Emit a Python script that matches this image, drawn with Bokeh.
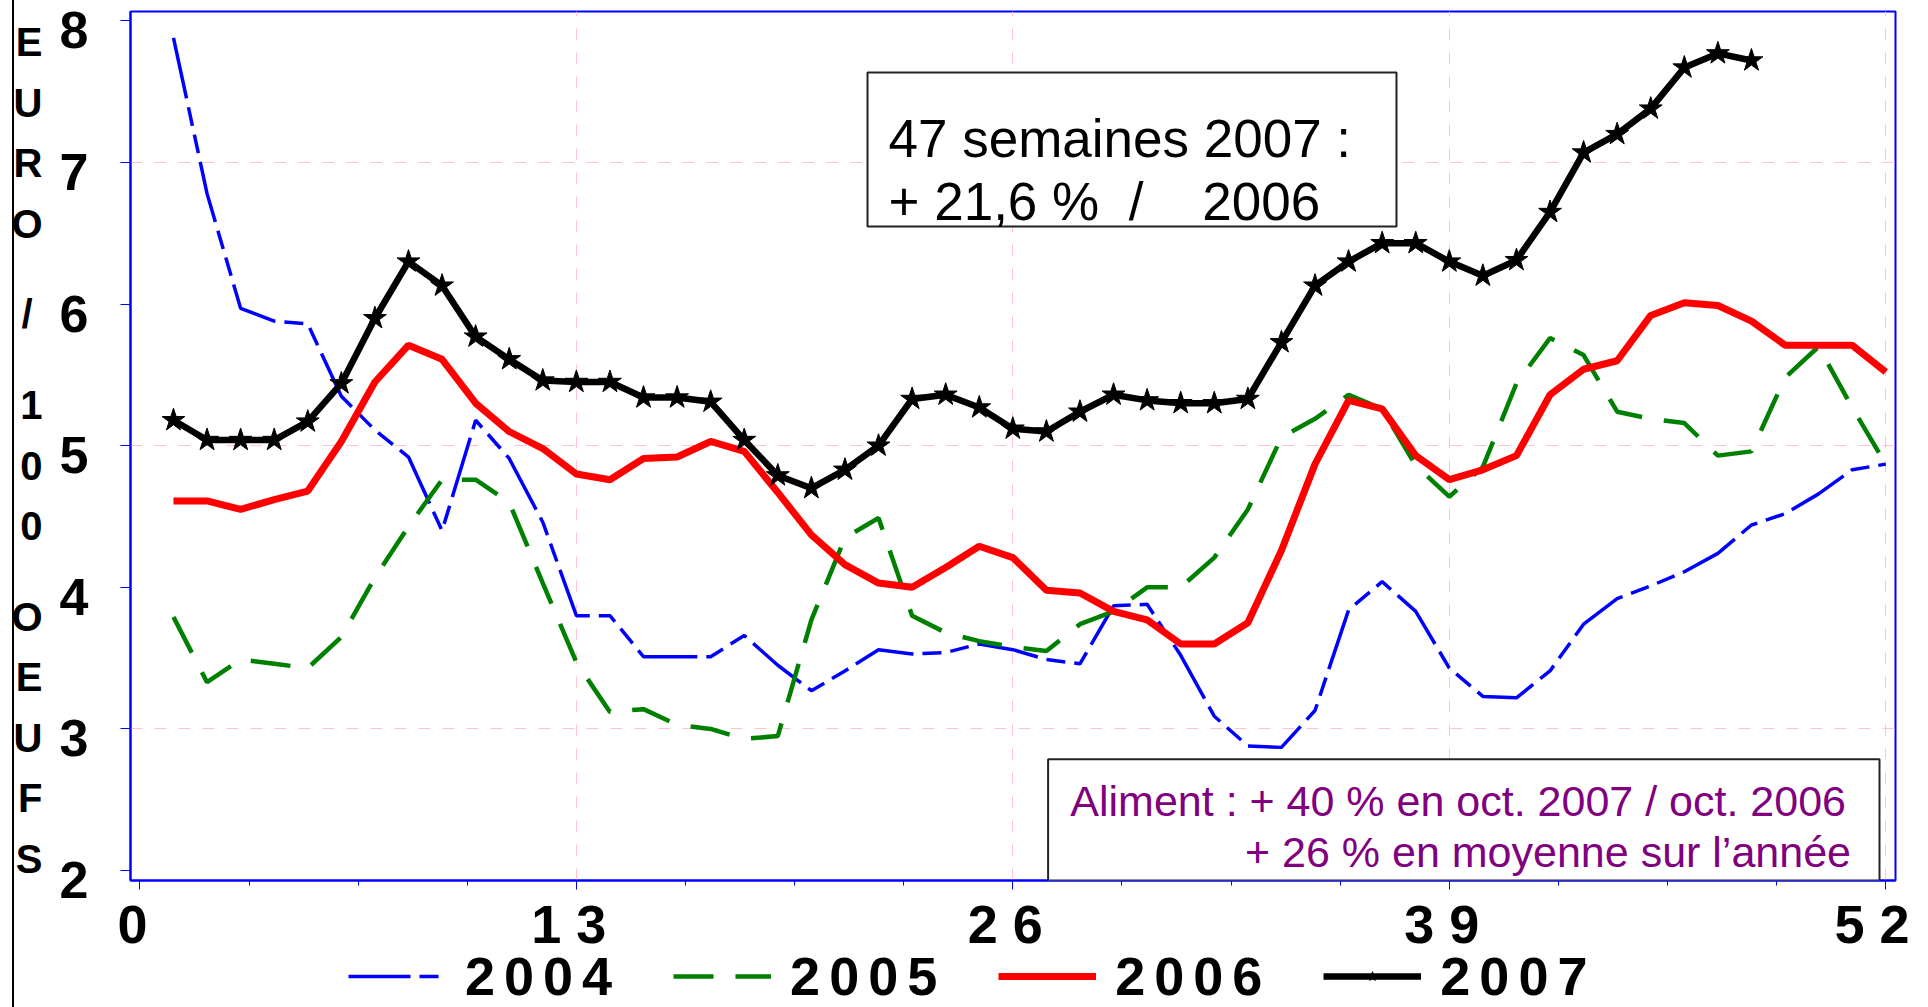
from bokeh.plotting import figure
from bokeh.layouts import row, column
from bokeh.models import (Range1d, FixedTicker, Label, BoxAnnotation, Legend, LegendItem,
                          LinearAxis, CustomJSTickFormatter, Div)
from bokeh.embed import file_html
from bokeh.resources import INLINE

# ---------------- data ----------------
weeks = list(range(1, 53))

v2004 = [7.88, 6.78, 5.97, 5.88, 5.86, 5.35, 5.11, 4.92, 4.40, 5.18,
         4.91, 4.46, 3.80, 3.80, 3.51, 3.51, 3.51, 3.66, 3.45, 3.27,
         3.41, 3.56, 3.53, 3.54, 3.60, 3.56, 3.49, 3.46, 3.87, 3.88,
         3.52, 3.09, 2.88, 2.87, 3.13, 3.84, 4.04, 3.83, 3.43, 3.23,
         3.22, 3.41, 3.74, 3.92, 4.01, 4.11, 4.24, 4.44, 4.52, 4.66,
         4.83, 4.87]

v2005 = [3.79, 3.33, 3.49, 3.46, 3.43, 3.65, 4.07, 4.43, 4.76, 4.76,
         4.60, 4.03, 3.47, 3.12, 3.14, 3.03, 3.00, 2.93, 2.95, 3.77,
         4.35, 4.49, 3.80, 3.68, 3.62, 3.58, 3.55, 3.74, 3.83, 4.00,
         4.00, 4.21, 4.55, 5.06, 5.19, 5.36, 5.26, 4.86, 4.64, 4.85,
         5.44, 5.76, 5.64, 5.24, 5.19, 5.16, 4.93, 4.96, 5.48, 5.70,
         5.27, 4.87]

v2006 = [4.61, 4.61, 4.55, 4.62, 4.68, 5.03, 5.45, 5.71, 5.61, 5.30,
         5.10, 4.98, 4.80, 4.76, 4.91, 4.92, 5.03, 4.96, 4.67, 4.37,
         4.16, 4.03, 4.00, 4.14, 4.29, 4.21, 3.98, 3.96, 3.83, 3.77,
         3.60, 3.60, 3.75, 4.26, 4.87, 5.32, 5.26, 4.93, 4.76, 4.83,
         4.93, 5.36, 5.54, 5.60, 5.92, 6.01, 5.99, 5.88, 5.71, 5.71,
         5.71, 5.52]

v2007 = [5.18, 5.04, 5.04, 5.04, 5.17, 5.44, 5.90, 6.30, 6.13, 5.77,
         5.61, 5.46, 5.45, 5.45, 5.34, 5.34, 5.31, 5.04, 4.79, 4.70,
         4.83, 5.00, 5.33, 5.36, 5.27, 5.12, 5.10, 5.24, 5.36, 5.32,
         5.30, 5.30, 5.33, 5.73, 6.13, 6.30, 6.43, 6.43, 6.30, 6.20,
         6.31, 6.65, 7.07, 7.20, 7.38, 7.67, 7.77, 7.72]
weeks2007 = weeks[:len(v2007)]

x_ticks = [0, 13, 26, 39, 52]
x_tick_labels = ["0\u00a0", "1 3\u00a0", "2 6\u00a0", "3 9\u00a0", "5 2\u00a0"]
y_ticks = [2, 3, 4, 5, 6, 7, 8]
series_labels = ["2004", "2005", "2006", "2007"]
y_title_letters = ["E", "U", "R", "O", "/\u2005", "1", "0", "0", "O", "E", "U", "F", "S"]
y_title_rows = [0, 1, 2, 3, 4.5, 6, 7, 8, 9.5, 10.5, 11.5, 12.5, 13.5]
box1_lines = ["47 semaines 2007 :", "+ 21,6 %\u00a0\u00a0/\u00a0\u00a0\u00a0 2006"]
box2_lines = ["Aliment : + 40 % en oct. 2007 / oct. 2006",
              "+ 26 % en moyenne sur l\u2019ann\u00e9e"]

FONT = "Liberation Sans"
BLUE = "#0000FF"
GREEN = "#008000"
RED = "#FF0000"
DASH04 = "62 9 19 9 19 9"
DASH05 = "40 22"

# ---------------- layout constants (page px) ----------------
FIG_W = 1924
MAIN_H = 960
LEG_OVERLAP = 20
LEG_H = 1007 - MAIN_H + LEG_OVERLAP
FRAME_LEFT, FRAME_TOP, FRAME_H = 130, 11, 869
Y0, Y1 = 1.93, 8.066
PX_PER_UNIT = FRAME_H / (Y1 - Y0)
LABEL_SHIFT = 9.5 / PX_PER_UNIT          # tick labels sit slightly below their tick

p = figure(width=FIG_W, height=MAIN_H, output_backend="svg", toolbar_location=None,
           title=None, x_range=Range1d(-0.28, 52.29), y_range=Range1d(Y0, Y1),
           min_border_left=FRAME_LEFT, min_border_right=29, min_border_top=FRAME_TOP,
           min_border_bottom=MAIN_H - FRAME_TOP - FRAME_H,
           background_fill_color="white", border_fill_color=None)

p.outline_line_color = BLUE
p.outline_line_width = 2

# x axis
xa = p.xaxis[0]
xa.ticker = FixedTicker(ticks=x_ticks, minor_ticks=[i * 3.25 for i in range(17)])
xa.major_label_overrides = {t: l for t, l in zip(x_ticks, x_tick_labels)}
xa.axis_line_color = BLUE
xa.axis_line_width = 2
xa.major_tick_line_color = BLUE
xa.minor_tick_line_color = BLUE
xa.major_tick_in = 0
xa.minor_tick_in = 0
xa.major_tick_out = 9
xa.minor_tick_out = 5
xa.major_label_text_font = FONT
xa.major_label_text_font_style = "bold"
xa.major_label_text_font_size = "54px"
xa.major_label_text_color = "black"
xa.major_label_standoff = 4

# y axis: tick marks only (labels not drawn)
ya = p.yaxis[0]
ya.ticker = FixedTicker(ticks=y_ticks, minor_ticks=[])
ya.axis_line_color = BLUE
ya.axis_line_width = 2
ya.major_tick_line_color = BLUE
ya.major_tick_in = 0
ya.major_tick_out = 10
ya.minor_tick_line_color = None
ya.major_label_text_font = FONT
ya.major_label_text_font_style = "bold"
ya.major_label_text_font_size = "52px"
ya.major_label_text_color = None
ya.major_label_standoff = 0

# y axis labels (slightly below their ticks, as in the original)
yl = LinearAxis(ticker=FixedTicker(ticks=[t - LABEL_SHIFT for t in y_ticks], minor_ticks=[]),
                formatter=CustomJSTickFormatter(code="return Math.round(tick + %f).toString();" % LABEL_SHIFT),
                axis_line_color=None, major_tick_line_color=None, minor_tick_line_color=None,
                major_tick_in=0, major_tick_out=0, major_label_standoff=32,
                major_label_text_font=FONT, major_label_text_font_style="bold",
                major_label_text_font_size="52px", major_label_text_color="black")
p.add_layout(yl, "left")

# vertical y title, one letter per line
title_pos = [Y1 - (41.7 + 60.5 * r - FRAME_TOP) / PX_PER_UNIT for r in y_title_rows]
yt = LinearAxis(ticker=FixedTicker(ticks=title_pos, minor_ticks=[]),
                formatter=CustomJSTickFormatter(args=dict(pos=title_pos, letters=y_title_letters), code="""
                    let best = 0, d = 1e9;
                    for (let i = 0; i < pos.length; i++) {
                        const dd = Math.abs(pos[i] - tick);
                        if (dd < d) { d = dd; best = i; }
                    }
                    return letters[best];"""),
                axis_line_color=None, major_tick_line_color=None, minor_tick_line_color=None,
                major_tick_in=0, major_tick_out=0, major_label_standoff=14,
                major_label_text_font=FONT, major_label_text_font_style="bold",
                major_label_text_font_size="40px", major_label_text_color="black")
p.add_layout(yt, "left")

# grids
p.xgrid.ticker = FixedTicker(ticks=[13, 26, 39, 52])
p.ygrid.ticker = FixedTicker(ticks=[3, 5, 7])
for g in (p.xgrid[0], p.ygrid[0]):
    g.grid_line_color = "#FFC4CE"
    g.grid_line_dash = "12 12"
    g.grid_line_width = 1

# series
STYLE04 = dict(line_color=BLUE, line_width=3.5, line_dash=DASH04)
STYLE05 = dict(line_color=GREEN, line_width=4.5, line_dash=DASH05)
STYLE06 = dict(line_color=RED, line_width=7)
STYLE07 = dict(line_color="black", line_width=6.5)
STAR07 = dict(marker="star", size=24, color="black")
p.line(weeks, v2004, **STYLE04)
p.line(weeks, v2005, **STYLE05)
p.line(weeks, v2006, **STYLE06)
p.line(weeks2007, v2007, **STYLE07)
p.scatter(weeks2007, v2007, **STAR07)

# box 1
p.add_layout(BoxAnnotation(left=737, right=1266, top=808, bottom=654,
                           left_units="screen", right_units="screen",
                           bottom_units="screen", top_units="screen",
                           fill_color="white", fill_alpha=1,
                           line_color="#222222", line_alpha=1, line_width=2))
p.add_layout(Label(x=758, y=880 - 137.6, x_units="screen", y_units="screen",
                   text=box1_lines[0], text_font=FONT, text_font_size="53px",
                   text_baseline="alphabetic", text_color="black"))
p.add_layout(Label(x=758, y=880 - 201.4, x_units="screen", y_units="screen",
                   text=box1_lines[1], text_font=FONT, text_font_size="53px",
                   text_baseline="alphabetic", text_color="black"))

# box 2
p.add_layout(BoxAnnotation(left=917.6, right=1749, top=121.3, bottom=0,
                           left_units="screen", right_units="screen",
                           bottom_units="screen", top_units="screen",
                           fill_color="white", fill_alpha=1,
                           line_color="#222222", line_alpha=1, line_width=2))
p.add_layout(Label(x=939.8, y=880 - 800.5, x_units="screen", y_units="screen",
                   text=box2_lines[0], text_font=FONT, text_font_size="43px",
                   text_baseline="middle", text_color="#800080"))
p.add_layout(Label(x=1720.5, y=880 - 851, x_units="screen", y_units="screen",
                   text=box2_lines[1], text_font=FONT, text_font_size="43px",
                   text_baseline="middle", text_align="right", text_color="#800080"))

# ---------------- legend strip below (same series, kept out of its view) ----------------
lf = figure(width=FIG_W, height=LEG_H, output_backend="svg", toolbar_location=None,
            title=None, x_range=Range1d(0, 1), y_range=Range1d(100, 101),
            x_axis_type=None, y_axis_type=None, min_border=0,
            min_border_left=0, min_border_right=0, min_border_top=0, min_border_bottom=0,
            background_fill_color=None, border_fill_color=None, outline_line_color=None,
            margin=(-LEG_OVERLAP, 0, 0, 0))
l04 = lf.line(weeks, v2004, **STYLE04)
l05 = lf.line(weeks, v2005, **STYLE05)
l06 = lf.line(weeks, v2006, **STYLE06)
l07 = lf.line(weeks2007, v2007, **STYLE07)
m07 = lf.scatter(weeks2007, v2007, **STAR07)

def spaced(s):
    return "\u2006".join(s)

legend = Legend(items=[LegendItem(label=spaced(series_labels[0]), renderers=[l04]),
                       LegendItem(label=spaced(series_labels[1]), renderers=[l05]),
                       LegendItem(label=spaced(series_labels[2]), renderers=[l06]),
                       LegendItem(label=spaced(series_labels[3]), renderers=[l07, m07])],
                orientation="horizontal", location=(348 - FRAME_LEFT, 0),
                glyph_width=98, glyph_height=24, label_standoff=19, spacing=61,
                padding=0, margin=0, border_line_color=None,
                background_fill_alpha=0, label_text_font=FONT,
                label_text_font_style="bold", label_text_font_size="54px",
                label_text_color="black")
lf.add_layout(legend)

# thin black border line on the far left, under the (transparent) figure borders
edge = Div(text="", width=2, height=1007, margin=(0, -14, 0, 12),
           styles={"background-color": "black"})
page = row(edge, column(p, lf, spacing=0), spacing=0)

open("out.html", "w").write(file_html(page, INLINE))
